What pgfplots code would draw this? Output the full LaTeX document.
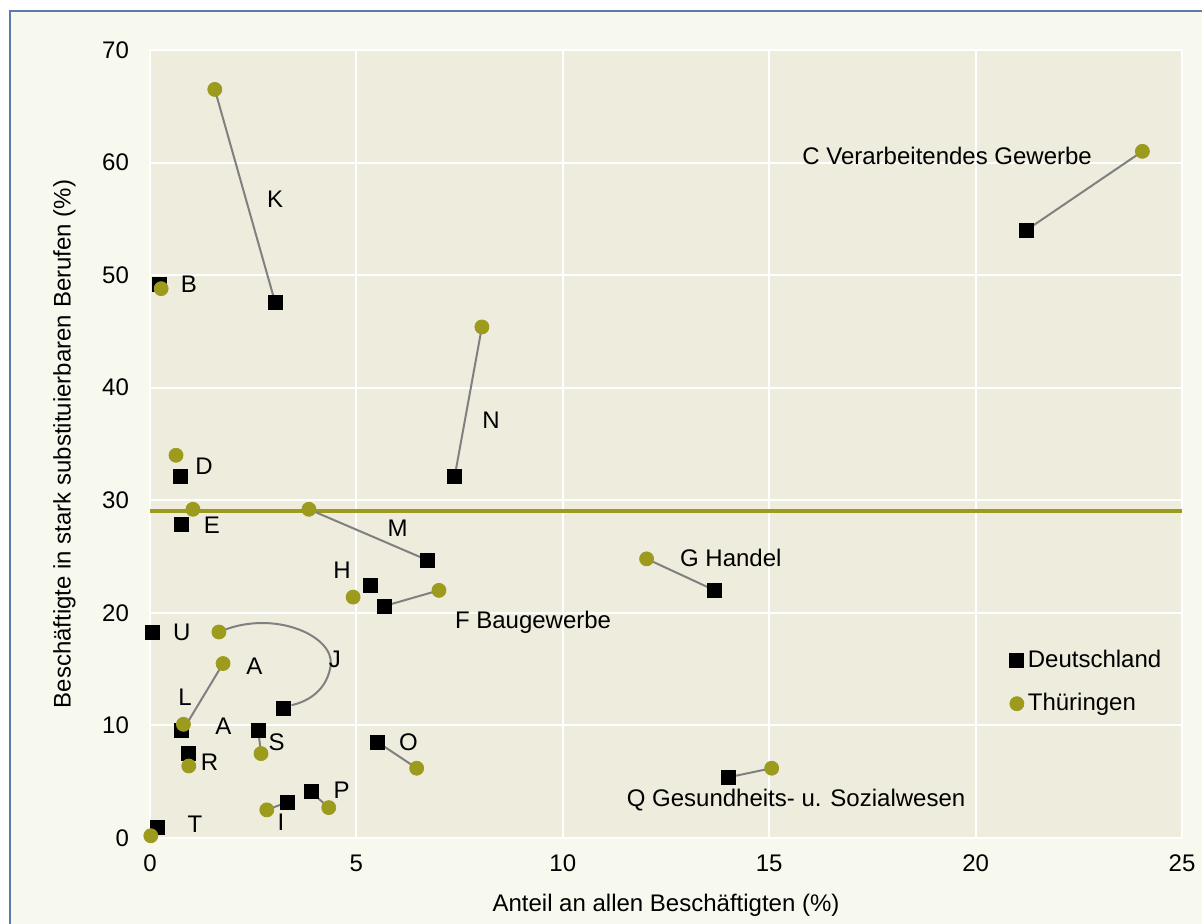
\documentclass[border=0pt]{standalone}
\usepackage{fontspec}
\setmainfont{Liberation Sans}
\usepackage{pgfplots}
\pgfplotsset{compat=1.18}

\definecolor{outerbg}{HTML}{F8F9EE}
\definecolor{plotbg}{HTML}{EEECDD}
\definecolor{framecol}{HTML}{5B7BB0}
\definecolor{olive}{HTML}{9C9B1E}
\definecolor{conn}{HTML}{808080}

\begin{document}
\begin{tikzpicture}[font=\fontsize{12}{14}\selectfont]
\useasboundingbox (-75pt,-42.5pt) rectangle (526pt,419pt);
% page and outer frame
\fill[white] (-75pt,-42.5pt) rectangle (526pt,419pt);
\fill[outerbg] (-70pt,-60pt) rectangle (540pt,413.5pt);
\draw[framecol, line width=1.2pt] (-70pt,-60pt) rectangle (540pt,413.5pt);

\begin{axis}[
  scale only axis,
  width=516pt, height=394pt,
  xmin=0, xmax=25, ymin=0, ymax=70,
  xtick={0,5,10,15,20,25},
  ytick={0,10,20,30,40,50,60,70},
  grid=major,
  grid style={white, line width=1pt},
  axis line style={draw=none},
  tick style={draw=none},
  axis background/.style={fill=plotbg},
  /pgf/number format/assume math mode=true,
  xticklabel style={yshift=-5pt},
  yticklabel style={xshift=-7pt},
  xlabel={Anteil an allen Beschäftigten (\%)},
  ylabel={Beschäftigte in stark substituierbaren Berufen (\%)},
  xlabel style={yshift=-4pt},
  ylabel style={yshift=6.5pt},
  clip=false,
  legend style={draw=none, fill=none, at={(0.827,0.198)}, anchor=west,
    row sep=7.5pt, font=\fontsize{12}{14}\selectfont},
  legend cell align=left,
]

% Thüringen average
\addplot[olive, line width=2pt, forget plot] coordinates {(0,29.05)(25,29.05)};

% connectors
\addplot[conn, line width=1pt, forget plot] coordinates {(1.57,66.5)(3.03,47.6)};
\addplot[conn, line width=1pt, forget plot] coordinates {(7.38,32.1)(8.04,45.4)};
\addplot[conn, line width=1pt, forget plot] coordinates {(21.23,54.0)(24.04,61.0)};
\addplot[conn, line width=1pt, forget plot] coordinates {(3.85,29.2)(6.71,24.7)};
\addplot[conn, line width=1pt, forget plot] coordinates {(5.67,20.6)(7.00,22.0)};
\addplot[conn, line width=1pt, forget plot] coordinates {(12.03,24.8)(13.68,22.0)};
\addplot[conn, line width=1pt, forget plot] coordinates {(1.77,15.5)(0.85,9.9)};
\addplot[conn, line width=1pt, forget plot] coordinates {(2.62,9.6)(2.69,7.5)};
\addplot[conn, line width=1pt, forget plot] coordinates {(5.52,8.5)(6.46,6.2)};
\addplot[conn, line width=1pt, forget plot] coordinates {(14.02,5.4)(15.06,6.2)};
\addplot[conn, line width=1pt, forget plot] coordinates {(3.90,4.1)(4.33,2.7)};
\addplot[conn, line width=1pt, forget plot] coordinates {(3.34,3.2)(2.83,2.5)};
\draw[conn, line width=1pt] (axis cs:1.74,18.4) .. controls (axis cs:3.0,20.3) and (axis cs:4.45,18.0) .. (axis cs:4.38,15.4)
  .. controls (axis cs:4.3,13.3) and (axis cs:3.9,12.2) .. (axis cs:3.43,11.8);

% Deutschland
\addplot[only marks, mark=square*, mark size=3.5pt, black] coordinates {
  (21.23,54.0) (3.03,47.6) (0.22,49.2) (7.38,32.1) (0.73,32.1) (0.77,27.9)
  (6.71,24.7) (5.35,22.4) (5.67,20.6) (13.68,22.0) (0.07,18.3) (3.24,11.5)
  (0.75,9.6) (0.77,9.6) (2.62,9.6) (0.92,7.5) (5.52,8.5) (14.02,5.4)
  (3.90,4.1) (3.34,3.2) (0.19,0.9)
};
\addlegendentry{Deutschland}

% Thüringen
\addplot[only marks, mark=*, mark size=3.5pt, olive, mark options={draw=olive, fill=olive}] coordinates {
  (24.04,61.0) (1.57,66.5) (0.27,48.8) (8.04,45.4) (0.63,34.0) (1.04,29.2)
  (3.85,29.2) (4.92,21.4) (7.00,22.0) (12.03,24.8) (1.67,18.3) (1.77,15.5)
  (0.81,10.1) (2.69,7.5) (0.94,6.4) (6.46,6.2) (15.06,6.2) (4.33,2.7)
  (2.83,2.5) (0.02,0.2)
};
\addlegendentry{Thüringen}

% labels
\node at (axis cs:19.31,60.6) {C Verarbeitendes Gewerbe};
\node at (axis cs:3.03,56.7) {K};
\node at (axis cs:0.94,49.2) {B};
\node at (axis cs:8.26,37.1) {N};
\node at (axis cs:1.31,33.0) {D};
\node at (axis cs:1.50,27.8) {E};
\node at (axis cs:6.00,27.5) {M};
\node at (axis cs:4.65,23.8) {H};
\node at (axis cs:9.28,19.2) {F Baugewerbe};
\node at (axis cs:14.07,24.9) {G Handel};
\node at (axis cs:0.77,18.3) {U};
\node at (axis cs:4.48,15.9) {J};
\node at (axis cs:2.53,15.3) {A};
\node at (axis cs:0.85,12.5) {L};
\node at (axis cs:1.78,9.9) {A};
\node at (axis cs:3.07,8.5) {S};
\node at (axis cs:1.44,6.7) {R};
\node at (axis cs:6.26,8.55) {O};
\node at (axis cs:4.64,4.2) {P};
\node at (axis cs:3.17,1.4) {I};
\node at (axis cs:1.09,1.2) {T};
\node at (axis cs:15.65,3.4) {Q Gesundheits- u. Sozialwesen};
\end{axis}
\end{tikzpicture}
\end{document}
